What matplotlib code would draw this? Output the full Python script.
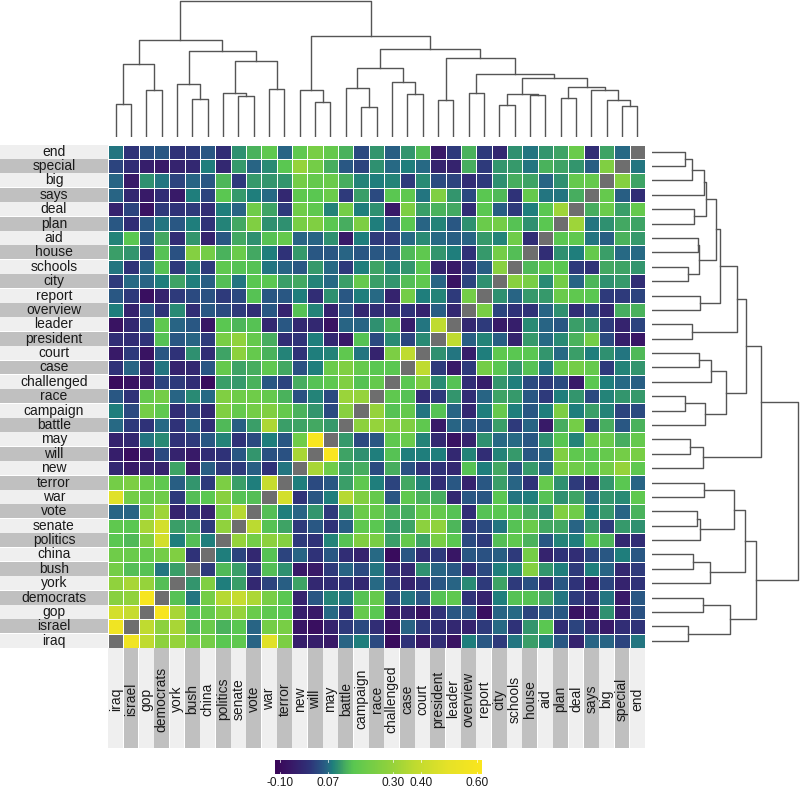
import numpy as np
import matplotlib
matplotlib.use("Agg")
import matplotlib.pyplot as plt
from matplotlib.colors import LinearSegmentedColormap, Normalize

plt.rcParams['font.family'] = ['Liberation Sans', 'DejaVu Sans']
NA = float('nan')

row_labels = ["end","special","big","says","deal","plan","aid","house","schools","city","report","overview",
              "leader","president","court","case","challenged","race","campaign","battle","may","will","new",
              "terror","war","vote","senate","politics","china","bush","york","democrats","gop","israel","iraq"]
col_labels = row_labels[::-1]

# Readings from the cells: rows "end".."race", columns "iraq".."campaign"
left_block = [
 [.09,0,.04,.05,0,.01,.05,-.01,.13,.2,.26,.07,.26,.31,.27,.2,.03],
 [.02,-.01,-.04,-.05,-.03,-.02,.1,-.02,.15,.07,.12,.25,.38,.3,.19,.05,.02],
 [.07,-.05,.13,.09,.02,.07,.05,.21,.01,.15,.14,.14,.3,.27,.28,.19,.11],
 [.07,-.02,-.05,-.01,-.05,.1,.02,.25,.15,.1,.08,-.02,.26,.25,.28,.01,.16],
 [-.03,.02,-.07,.01,0,.01,-.01,.1,.07,.29,.17,.01,.29,.26,.11,.3,.1],
 [.05,-.01,.05,.09,.05,.1,0,.11,.18,.33,.13,.13,.31,.33,.25,.19,.32],
 [.11,.25,.05,.18,-.01,.14,-.03,.05,.18,.13,.24,.27,.07,.07,.13,-.05,.1],
 [.16,.14,.02,.24,.04,.34,.3,.2,.28,.18,.1,0,.15,.05,.05,.07,.05],
 [.09,0,.08,.24,.01,.11,.01,.26,.24,.24,.09,.07,.05,.15,.08,.01,.1],
 [.01,.08,.07,.1,.17,.1,.06,.23,.09,.25,.25,.16,.18,.11,.08,.16,.27],
 [.05,.01,-.08,-.03,.01,.03,.04,.01,.03,.24,.05,.05,.1,-.01,.13,.05,.1],
 [.1,-.03,.05,0,.12,-.01,.05,.03,.01,-.01,.05,-.03,.24,.11,-.03,.05,-.02],
 [-.07,-.02,.05,.26,.07,.05,-.06,.25,.21,.24,-.02,.05,-.02,-.02,-.07,.07,.07],
 [-.01,-.01,0,.24,.05,.07,.01,.31,.37,.27,.19,-.01,0,.1,-.02,-.05,.24],
 [-.05,.01,-.07,.05,0,.13,-.01,.17,.36,.27,.2,.11,0,.1,.11,.26,.09],
 [0,.07,-.03,.09,-.03,-.02,.05,.27,.17,.19,.26,.18,.04,.1,.28,.33,.27],
 [-.09,-.07,-.05,.02,.01,-.01,-.09,.16,.15,.2,.05,.02,.19,.24,.26,.33,.24],
 [.05,0,.27,.3,.07,.12,.08,.33,.29,.29,.27,.2,.04,.11,.03,.39,.38],
]
# Same rows, columns "race".."end"
right_block = [
 [.14,.06,.14,.23,-.05,.01,.2,.01,-.02,.13,.09,.14,.17,.28,-.01,.17,.08,NA],
 [.13,.08,.1,.08,-.03,-.03,.19,.01,.14,.15,.09,.2,.17,.14,.06,.33,NA,.09],
 [.1,.11,.01,.12,.03,.02,-.01,.01,.13,.19,.17,.07,.13,.27,.27,NA,.34,.17],
 [.03,.25,.26,.09,.33,.14,.03,.25,.22,0,.27,.09,.09,.19,NA,.27,.06,-.01],
 [.13,-.05,.32,.16,.2,.18,-.01,.25,.06,.01,.1,.25,.4,NA,.19,.28,.16,.27],
 [.1,.05,.25,.07,.11,.05,.13,.28,.3,.24,.13,.25,NA,.4,.09,.13,.18,.17],
 [.01,.01,.08,.12,.08,.06,.07,.15,.11,.29,-.01,NA,.25,.26,.09,.06,.2,.15],
 [.05,.05,.22,.26,.14,.1,0,.15,.3,.23,NA,-.01,.13,.1,.27,.16,.08,.08],
 [.17,.11,.14,.25,-.03,-.05,0,.06,.35,NA,.22,.26,.25,.01,0,.18,.17,.14],
 [.16,.14,.23,.26,.07,-.07,.02,.13,NA,.35,.31,.12,.3,.07,.21,.13,.15,-.01],
 [.08,-.03,.3,.1,.11,.01,.3,NA,.13,.07,.15,.15,.28,.26,.25,.01,.01,.02],
 [-.01,-.01,0,-.03,.06,-.02,NA,.31,.02,0,0,.07,.13,-.01,.02,-.02,.19,.2],
 [.13,.22,-.04,.09,.47,NA,-.02,.01,-.05,-.04,.12,.07,.05,.16,.13,.01,-.03,.02],
 [.03,.12,.02,.12,NA,.47,.06,.11,.06,-.03,.15,.08,.12,.2,.3,.03,-.04,-.06],
 [-.03,.32,.47,NA,.13,.09,-.04,.1,.26,.25,.25,.14,.08,.16,.1,.13,.09,.22],
 [.25,.25,NA,.47,.01,-.05,.01,.3,.25,.14,.24,.09,.27,.3,.27,.01,.11,.14],
 [.27,NA,.25,.33,.12,.24,-.01,-.04,.14,.1,.03,.01,.03,-.05,.25,.1,.08,.06],
 [NA,.26,.24,-.01,.01,.14,-.01,.07,.17,.15,.05,.01,.1,.14,.03,.11,.14,.15],
]
# Rows "campaign".."iraq", columns "iraq".."race"
lower_block = [
 [.1,.03,.3,.26,-.01,.02,-.02,.33,.27,.3,.33,.27,.2,.14,.03,.35,NA,.38],
 [.08,.01,0,.08,0,.07,-.01,.22,.06,.16,.43,.16,.17,.18,.15,NA,.36,.38],
 [-.03,-.02,.09,.12,0,.01,.05,.11,0,.03,.1,.05,.29,.6,NA,.15,.03,.05],
 [-.04,-.08,-.05,.03,-.03,-.05,-.01,0,.05,.14,.04,.04,.42,NA,.6,.17,.13,.1],
 [-.02,-.05,-.03,-.03,.17,-.05,.06,.01,.01,.06,0,.09,NA,.42,.29,.16,.19,.03],
 [.3,.32,.28,.26,.06,.14,.01,.32,.16,.1,.48,NA,.1,.03,.05,.16,.26,.1],
 [.52,.3,.28,.29,.01,.23,.25,.35,.24,.23,NA,.5,0,.05,.1,.45,.33,.27],
 [.07,.07,.3,.4,-.03,0,-.03,.3,.45,NA,.23,.1,.07,.14,.01,.15,.28,.27],
 [.26,.25,.42,.5,.16,.17,.01,.37,NA,.46,.24,.17,.01,.05,0,.06,.26,.25],
 [.25,.22,.33,.5,.1,.23,.1,NA,.38,.3,.36,.34,.01,0,.11,.24,.33,.31],
 [.29,.28,.27,.3,.33,0,NA,.1,.02,-.02,.24,.02,.07,0,.05,-.01,-.03,.08],
 [.3,.23,.24,.09,.16,NA,.01,.22,.16,.01,.23,.13,-.05,-.05,.01,.07,.03,.09],
 [.37,.42,.38,.23,NA,.14,.33,.1,.16,-.02,.02,.06,.17,-.02,-.01,0,-.02,.08],
 [.35,.37,.58,NA,.24,.09,.3,.45,.48,.43,.31,.25,-.03,.05,.11,.09,.24,.27],
 [.5,.48,NA,.58,.42,.24,.27,.34,.38,.28,.26,.25,-.04,-.05,.08,0,.27,.25],
 [.56,NA,.47,.36,.42,.22,.28,.2,.25,.07,.3,.31,-.06,-.08,-.03,.01,.03,-.01],
 [NA,.56,.47,.36,.38,.3,.3,.25,.26,.07,.52,.32,-.04,-.04,-.05,.07,.1,.03],
]

# Calibration of cell readings against the legend
read_levels   = [-.12, -.09, -.05, -.02, 0, .02, .05, .08, .10, .13, .19, .25, .30, .35, .47, .58, .62]
legend_values = [-.12, -.10, -.06, -.025, 0, .025, .05, .07, .085, .105, .13, .16, .22, .27, .38, .60, .62]

legend_ticks = [-0.10, 0.07, 0.30, 0.40, 0.60]

# Dendrograms: (height, child, child); leaves are label strings
col_tree = (136,
  (97,
    (73, (33,"iraq","israel"), (47,"gop","democrats")),
    (86,
      (53,"york",(38,"bush","china")),
      (76, (44,"politics",(41,"senate","vote")), (48,"war","terror")))),
  (101,
    (47,"new",(35,"will","may")),
    (88,
      (69,
        (49,"battle",(30,"campaign","race")),
        (55,"challenged",(43,"case","court"))),
      (79,
        (37,"president","leader"),
        (63,
          (44,"overview","report"),
          (59,
            (43,(32,"city","schools"),(42,"house","aid")),
            (50,(39,"plan","deal"),(47,"says",(37,"big",(31,"special","end")))))))))
)
row_tree = (146,
  (109,
    (94,
      (85,
        (68,
          (64,
            (54,(52,(40,(33,"end","special"),"big"),"says"),(42,"deal","plan")),
            (47,(46,"aid","house"),(36,"schools","city"))),
          (48,"report","overview")),
        (40,"leader","president")),
      (74,
        (59,(47,"court","case"),"challenged"),
        (53,(33,"race","campaign"),"battle"))),
    (51,(38,"may","will"),"new")),
  (104,
    (93,
      (82,
        (52,"terror","war"),
        (48,(45,"vote","senate"),"politics")),
      (58,(41,"china","bush"),"york")),
    (78,(51,"democrats","gop"),(36,"israel","iraq")))
)

# Assemble matrix
n = len(row_labels)
M = np.full((n, n), np.nan)
for r in range(18):
    M[r, :17] = left_block[r]
    M[r, 17:] = right_block[r]
for i, r in enumerate(range(18, n)):
    M[r, :18] = lower_block[i]
for r in range(18, n):
    for c in range(18, n):
        M[r, c] = M[n-1-c, n-1-r]
values = np.interp(M, read_levels, legend_values)
values[np.isnan(M)] = np.nan

# Colour scale (legend colours)
vmin, vmax = -0.118, 0.618
stops = [(-.118,'#3a0658'),(-.06,'#381a68'),(0,'#2f3278'),(.04,'#2a4f82'),(.07,'#276a84'),(.085,'#1f7e7c'),
         (.105,'#2f9070'),(.13,'#47ad5f'),(.16,'#5ac751'),(.22,'#74cd47'),(.28,'#8cd13e'),(.38,'#bfdb30'),
         (.5,'#e6e228'),(.618,'#fae61e')]
cmap = LinearSegmentedColormap.from_list('legend', [((v-vmin)/(vmax-vmin), c) for v, c in stops], N=512)
cmap.set_bad('#6e6e6e')
norm = Normalize(vmin, vmax)

W, H = 800, 788
fig = plt.figure(figsize=(W/100, H/100), dpi=100)

def ax_px(x0, y0, x1, y1):
    a = fig.add_axes([x0/W, 1-y1/H, (x1-x0)/W, (y1-y0)/H])
    a.set_axis_off()
    return a

GX0, GX1, GY0, GY1 = 108.0, 645.0, 144.5, 648.0
TEXT = '#1a1a1a'
LIGHT, DARK = '#efefef', '#c0c0c0'

ax = ax_px(GX0, GY0, GX1, GY1)
ax.pcolormesh(np.ma.masked_invalid(values), cmap=cmap, norm=norm, edgecolors='white', linewidth=0.55)
ax.set_xlim(0, n); ax.set_ylim(n, 0)

# Row strip
axr = ax_px(0, GY0, GX0, GY1)
axr.barh(np.arange(n)+.5, [1]*n, height=.97, color=[LIGHT if i % 2 == 0 else DARK for i in range(n)])
axr.set_xlim(0, 1); axr.set_ylim(n, 0)
for i, t in enumerate(row_labels):
    axr.text(.5, i+.5, t, ha='center', va='center', fontsize=10, color=TEXT)

# Column strip
axc = ax_px(GX0, GY1, GX1, 748)
axc.bar(np.arange(n)+.5, [1]*n, width=.97, color=[LIGHT if i % 2 == 0 else DARK for i in range(n)])
axc.set_xlim(0, n); axc.set_ylim(1, 0)
for i, t in enumerate(col_labels):
    axc.text(i+.5, .51, t, ha='center', va='center', rotation=90, fontsize=10, color=TEXT)

# Dendrograms
LINE = dict(color='#555555', lw=1.0, solid_capstyle='projecting')
def draw(a, node, pos, horizontal):
    if isinstance(node, str):
        return pos[node], 0
    h, l, r = node
    p1, h1 = draw(a, l, pos, horizontal)
    p2, h2 = draw(a, r, pos, horizontal)
    xs, ys = [p1, p1, p2, p2], [h1, h, h, h2]
    if horizontal:
        a.plot(ys, xs, **LINE)
    else:
        a.plot(xs, ys, **LINE)
    return (p1+p2)/2, h

axt = ax_px(GX0, 0, GX1, 137)
draw(axt, col_tree, {t: i+.5 for i, t in enumerate(col_labels)}, False)
axt.set_xlim(0, n); axt.set_ylim(0, 137)

axd = ax_px(652.3, GY0, 800, GY1)
draw(axd, row_tree, {t: i+.5 for i, t in enumerate(row_labels)}, True)
axd.set_xlim(0, 147.7); axd.set_ylim(n, 0)

# Colour legend
axb = fig.add_axes([275/W, 1-774/H, 207/W, 14/H])
grad = np.linspace(vmin, vmax, 128)[None, :]
axb.imshow(grad, aspect='auto', cmap=cmap, norm=norm, extent=[vmin, vmax, 0, 1])
axb.set_yticks([])
axb.set_xticks(legend_ticks)
axb.set_xticklabels([f'{t:.2f}' for t in legend_ticks], fontsize=8.6, color=TEXT)
axb.tick_params(axis='x', length=0, pad=2)
for s in axb.spines.values():
    s.set_visible(False)
for t in legend_ticks:
    axb.plot([t, t], [0, .12], color='white', lw=.5)
    axb.plot([t, t], [.88, 1], color='white', lw=.5)
axb.set_xlim(vmin, vmax); axb.set_ylim(0, 1)

fig.savefig('out.png', dpi=100)
